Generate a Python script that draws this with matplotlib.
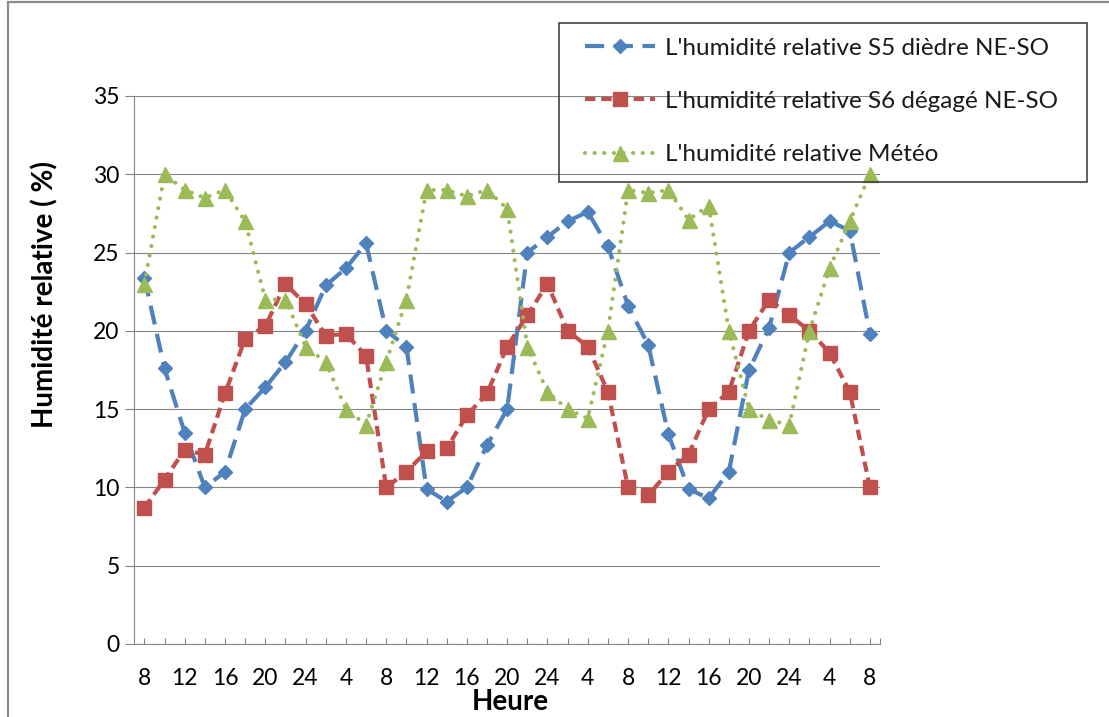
import matplotlib
matplotlib.use("Agg")
import matplotlib.pyplot as plt
from matplotlib.patches import Rectangle

# Hour of day for each reading (every 2 hours over three days)
hours = [8, 10, 12, 14, 16, 18, 20, 22, 24, 2, 4, 6,
         8, 10, 12, 14, 16, 18, 20, 22, 24, 2, 4, 6,
         8, 10, 12, 14, 16, 18, 20, 22, 24, 2, 4, 6, 8]

# Relative humidity (%)
s5_diedre = [23.4, 17.6, 13.5, 10.0, 11.0, 15.0, 16.4, 18.0, 20.0, 22.9, 24.0, 25.6,
             20.0, 19.0, 9.9, 9.1, 10.0, 12.7, 15.0, 25.0, 26.0, 27.0, 27.6, 25.4,
             21.6, 19.1, 13.4, 9.9, 9.3, 11.0, 17.5, 20.2, 25.0, 26.0, 27.0, 26.4, 19.8]
s6_degage = [8.7, 10.5, 12.4, 12.1, 16.0, 19.5, 20.3, 23.0, 21.7, 19.7, 19.8, 18.4,
             10.0, 11.0, 12.3, 12.5, 14.6, 16.0, 19.0, 21.0, 23.0, 20.0, 19.0, 16.1,
             10.0, 9.5, 11.0, 12.1, 15.0, 16.1, 20.0, 22.0, 21.0, 20.0, 18.6, 16.1, 10.0]
meteo = [23.0, 30.0, 29.0, 28.5, 29.0, 27.0, 22.0, 22.0, 19.0, 18.0, 15.0, 14.0,
         18.0, 22.0, 29.0, 29.0, 28.6, 29.0, 27.8, 19.0, 16.1, 15.0, 14.4, 20.0,
         29.0, 28.8, 29.0, 27.1, 28.0, 20.0, 15.0, 14.3, 14.0, 20.0, 24.0, 27.0, 30.0]

series_labels = ["L'humidité relative S5 dièdre NE-SO",
                 "L'humidité relative S6 dégagé NE-SO",
                 "L'humidité relative Météo"]
y_ticks = [0, 5, 10, 15, 20, 25, 30, 35]

FONT = ['Lato', 'DejaVu Sans']
plt.rcParams['font.family'] = FONT

W, H = 1109, 717
fig = plt.figure(figsize=(W / 100, H / 100), dpi=100)
fig.patch.set_facecolor('white')

# chart-area border (top and left edges visible)
fig.patches.append(Rectangle((8 / W, -1.0), 2.0, 2.0 - 2 / H, transform=fig.transFigure,
                             fill=False, ec='#8a8a8a', lw=1.6, zorder=0))

ax = fig.add_axes([134.3 / W, 1 - 644 / H, (880 - 134.3) / W, (644 - 96) / H])
ax.set_facecolor('none')

x = list(range(len(hours)))
ax.plot(x, s5_diedre, color='#4F81BD', lw=3.0, dashes=(4.6, 2.3), dash_capstyle='butt',
        marker='D', ms=6.8, mfc='#4F81BD', mec='#4F81BD', mew=1,
        label=series_labels[0], clip_on=False, zorder=3)
ax.plot(x, s6_degage, color='#C0504D', lw=3.0, dashes=(2.5, 1.4), dash_capstyle='butt',
        marker='s', ms=10.5, mfc='#C0504D', mec='#C0504D', mew=1,
        label=series_labels[1], clip_on=False, zorder=4)
ax.plot(x, meteo, color='#9BBB59', lw=3.0, dashes=(0.01, 2.3), dash_capstyle='round',
        marker='^', ms=10.8, mfc='#9BBB59', mec='#9BBB59', mew=1,
        label=series_labels[2], clip_on=False, zorder=5)

ax.set_xlim(-0.5, len(hours) - 0.5)
ax.set_ylim(0, 35)

ax.set_yticks(y_ticks)
ax.set_yticklabels([str(v) for v in y_ticks], fontsize=16.5)
ax.set_xticks(x)
ax.set_xticklabels([str(h) if i % 2 == 0 else '' for i, h in enumerate(hours)], fontsize=16.5)
ax.set_xticks([len(hours) - 0.5], minor=True)

ax.yaxis.grid(True, color='#868686', lw=0.8)
ax.set_axisbelow(True)

for side in ('top', 'right'):
    ax.spines[side].set_visible(False)
for side in ('left', 'bottom'):
    ax.spines[side].set_color('#868686')
    ax.spines[side].set_linewidth(0.8)

ax.tick_params(axis='x', which='both', direction='in', length=4.5, width=0.8,
               color='#868686', pad=17, labelcolor='black')
ax.tick_params(axis='y', direction='out', length=6.5, width=0.8,
               color='#868686', pad=4, labelcolor='black')

ax.set_ylabel('Humidité relative ( %)', fontsize=20, fontweight='bold')
ax.yaxis.set_label_coords(-0.102, 0.637)
ax.set_xlabel('Heure', fontsize=20, fontweight='bold')
ax.xaxis.set_label_coords(0.504, -0.082)

handles, labels = ax.get_legend_handles_labels()
fs_leg = 17.5
fs_px = fs_leg * 100 / 72
leg = fig.legend(handles, labels, loc='center left',
                 bbox_to_anchor=(585 / W, 1 - 101.5 / H), bbox_transform=fig.transFigure,
                 frameon=False, borderpad=0, borderaxespad=0,
                 handlelength=70 / fs_px, handletextpad=10 / fs_px,
                 labelspacing=1.32, fontsize=fs_leg)
for t in leg.get_texts():
    t.set_color('#1a1a1a')

# legend frame
fig.patches.append(Rectangle((559 / W, 1 - 182 / H), 528 / W, 159 / H,
                             transform=fig.transFigure, fill=False,
                             ec='#333333', lw=1.1, zorder=1))

fig.savefig('out.png', dpi=100)
